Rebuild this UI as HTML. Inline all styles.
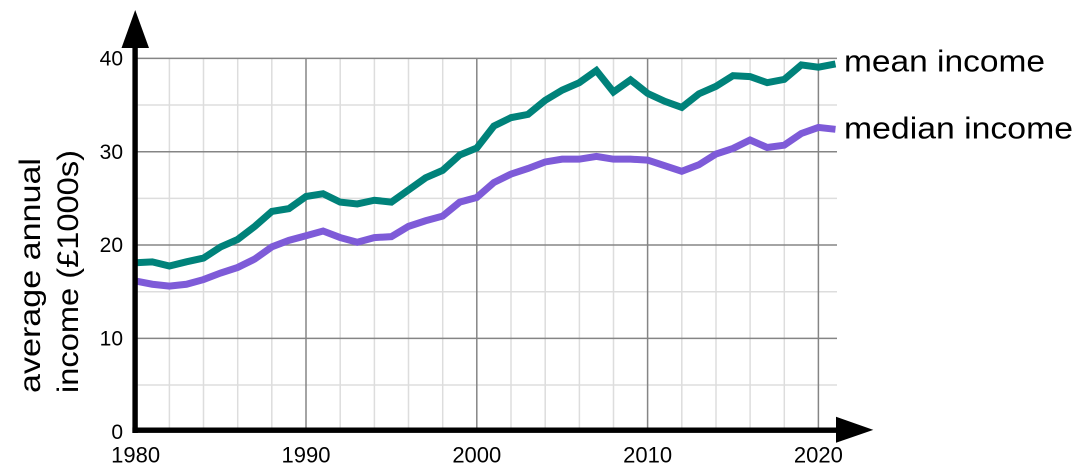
<!DOCTYPE html>
<html>
<head>
<meta charset="utf-8">
<style>
  html, body { margin: 0; padding: 0; background: #ffffff; }
  body { width: 1080px; height: 475px; overflow: hidden; }
  svg { display: block; }
  text { font-family: "Liberation Sans", "DejaVu Sans", sans-serif; fill: #000; }
</style>
</head>
<body>
<svg width="1080" height="475" viewBox="0 0 1080 475" xmlns="http://www.w3.org/2000/svg">
  <!-- minor vertical gridlines -->
  <g stroke="#dddddd" stroke-width="1.5">
    <line x1="169.4" y1="58.4" x2="169.4" y2="431.7"/>
    <line x1="203.5" y1="58.4" x2="203.5" y2="431.7"/>
    <line x1="237.7" y1="58.4" x2="237.7" y2="431.7"/>
    <line x1="271.8" y1="58.4" x2="271.8" y2="431.7"/>
    <line x1="340.2" y1="58.4" x2="340.2" y2="431.7"/>
    <line x1="374.4" y1="58.4" x2="374.4" y2="431.7"/>
    <line x1="408.5" y1="58.4" x2="408.5" y2="431.7"/>
    <line x1="442.7" y1="58.4" x2="442.7" y2="431.7"/>
    <line x1="511.0" y1="58.4" x2="511.0" y2="431.7"/>
    <line x1="545.2" y1="58.4" x2="545.2" y2="431.7"/>
    <line x1="579.4" y1="58.4" x2="579.4" y2="431.7"/>
    <line x1="613.5" y1="58.4" x2="613.5" y2="431.7"/>
    <line x1="681.8" y1="58.4" x2="681.8" y2="431.7"/>
    <line x1="716.0" y1="58.4" x2="716.0" y2="431.7"/>
    <line x1="750.1" y1="58.4" x2="750.1" y2="431.7"/>
    <line x1="784.3" y1="58.4" x2="784.3" y2="431.7"/>
    <!-- minor horizontal -->
    <line x1="135" y1="105.0" x2="837" y2="105.0"/>
    <line x1="135" y1="198.4" x2="837" y2="198.4"/>
    <line x1="135" y1="291.7" x2="837" y2="291.7"/>
    <line x1="135" y1="385.0" x2="837" y2="385.0"/>
  </g>
  <!-- major gridlines -->
  <g stroke="#858585" stroke-width="1.5">
    <line x1="306.0" y1="58.4" x2="306.0" y2="431.7"/>
    <line x1="476.8" y1="58.4" x2="476.8" y2="431.7"/>
    <line x1="647.6" y1="58.4" x2="647.6" y2="431.7"/>
    <line x1="818.4" y1="58.4" x2="818.4" y2="431.7"/>
    <line x1="135" y1="58.4" x2="837" y2="58.4"/>
    <line x1="135" y1="151.7" x2="837" y2="151.7"/>
    <line x1="135" y1="245.0" x2="837" y2="245.0"/>
    <line x1="135" y1="338.4" x2="837" y2="338.4"/>
  </g>

  <!-- data series -->
  <g transform="translate(135.2,431.7) scale(17.08,-9.333)" fill="none" stroke-linejoin="miter" stroke-miterlimit="4">
    <polyline vector-effect="non-scaling-stroke" stroke="#7E5BD8" stroke-width="7"
      points="0,16.15 1,15.8 2,15.6 3,15.8 4,16.3 5,17.0 6,17.6 7,18.5 8,19.8 9,20.5 10,21.0 11,21.5 12,20.8 13,20.3 14,20.8 15,20.9 16,22.0 17,22.6 18,23.1 19,24.6 20,25.1 21,26.7 22,27.6 23,28.2 24,28.9 25,29.2 26,29.2 27,29.5 28,29.2 29,29.2 30,29.1 31,28.5 32,27.9 33,28.6 34,29.75 35,30.35 36,31.25 37,30.45 38,30.7 39,31.95 40,32.6 41,32.4"/>
    <polyline vector-effect="non-scaling-stroke" stroke="#00827A" stroke-width="7"
      points="0,18.1 1,18.2 2,17.75 3,18.2 4,18.6 5,19.8 6,20.6 7,22.0 8,23.6 9,23.9 10,25.2 11,25.5 12,24.6 13,24.4 14,24.8 15,24.6 16,25.9 17,27.2 18,28.0 19,29.65 20,30.4 21,32.75 22,33.65 23,34.0 24,35.5 25,36.6 26,37.4 27,38.7 28,36.4 29,37.7 30,36.25 31,35.4 32,34.75 33,36.2 34,37.0 35,38.15 36,38.05 37,37.4 38,37.75 39,39.3 40,39.05 41,39.4"/>
  </g>

  <!-- axes -->
  <rect x="132.4" y="46" width="5.4" height="387" fill="#000"/>
  <polygon points="121.5,48 149,48 135.2,10" fill="#000"/>
  <rect x="132.4" y="427.5" width="705" height="5.4" fill="#000"/>
  <polygon points="836,416.7 836,442.7 873.3,429.9" fill="#000"/>

  <!-- y tick labels -->
  <g font-size="21" text-anchor="end" fill="#111">
    <text x="123" y="65.6">40</text>
    <text x="123" y="158.9">30</text>
    <text x="123" y="252.2">20</text>
    <text x="123" y="345.6">10</text>
    <text x="123" y="438.9">0</text>
  </g>
  <!-- x tick labels -->
  <g font-size="22" text-anchor="middle" fill="#111">
    <text x="135.6" y="462.5">1980</text>
    <text x="306.0" y="462.5">1990</text>
    <text x="476.8" y="462.5">2000</text>
    <text x="647.6" y="462.5">2010</text>
    <text x="818.4" y="462.5">2020</text>
  </g>

  <!-- y axis title -->
  <g font-size="30">
    <text transform="translate(40,393) rotate(-90)" x="0" y="0" textLength="235" lengthAdjust="spacingAndGlyphs">average annual</text>
    <text transform="translate(78,393) rotate(-90)" x="0" y="0" textLength="243" lengthAdjust="spacingAndGlyphs">income (£1000s)</text>
  </g>

  <!-- series labels -->
  <g font-size="31">
    <text x="844" y="71.7" textLength="201" lengthAdjust="spacingAndGlyphs">mean income</text>
    <text x="844" y="138.3" textLength="229" lengthAdjust="spacingAndGlyphs">median income</text>
  </g>
</svg>
</body>
</html>
